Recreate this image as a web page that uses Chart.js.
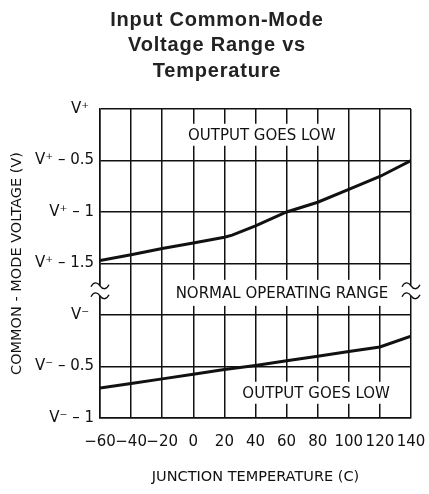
<!DOCTYPE html>
<html>
<head>
<meta charset="utf-8">
<script src="https://cdn.jsdelivr.net/npm/chart.js@4.4.0/dist/chart.umd.min.js"></script>
<style>
  html, body { margin: 0; padding: 0; background: #fff; }
  #wrap { width: 429px; height: 494px; }
</style>
</head>
<body>
<div id="wrap"><canvas id="c" width="429" height="494"></canvas></div>
<script>
// 차트 데이터
const titleLines = ['Input Common-Mode', 'Voltage Range vs', 'Temperature'];

const upperTemps = [-60, -40, -20, 0, 20, 25, 40, 60, 80, 100, 120, 140];
// V+ 기준 오프셋 (V)
const upperVolts = [-1.47, -1.415, -1.355, -1.30, -1.245, -1.225, -1.135, -1.0, -0.905, -0.78, -0.655, -0.5];

const lowerTemps = [-60, -40, -20, 0, 20, 40, 60, 80, 100, 120, 140];
// V- 기준 오프셋 (V)
const lowerVolts = [-0.71, -0.665, -0.62, -0.575, -0.53, -0.49, -0.445, -0.40, -0.355, -0.31, -0.205];

const xTickLabels = ['−60', '−40', '−20', '0', '20', '40', '60', '80', '100', '120', '140'];
const yTickLabels = ['V⁻ – 1', 'V⁻ – 0.5', 'V⁻ ', 'V⁺ – 1.5', 'V⁺ – 1', 'V⁺ – 0.5', 'V⁺ '];

const notes = [
  { text: 'OUTPUT GOES LOW', x: 44, y: 5.5, h: 11 },
  { text: 'NORMAL OPERATING RANGE', x: 57, y: 2.43, h: 13 },
  { text: 'OUTPUT GOES LOW', x: 79, y: 0.49, h: 11 }
];

// 끊어진 축: V+ 구간은 6 + 2v, V- 구간은 2 + 2v
const upperPts = upperTemps.map((t, i) => ({ x: t, y: 6 + 2 * upperVolts[i] }));
const lowerPts = lowerTemps.map((t, i) => ({ x: t, y: 2 + 2 * lowerVolts[i] }));

const FONT = "'DejaVu Sans', sans-serif";
const INK = '#111';

// 제목 (자간 조절 때문에 직접 그림)
const titlePlugin = {
  id: 'titleText',
  afterDraw(chart) {
    const ctx = chart.ctx;
    ctx.save();
    ctx.font = "bold 20px 'Liberation Sans', Arial, sans-serif";
    ctx.fillStyle = '#222';
    ctx.textAlign = 'center';
    ctx.textBaseline = 'alphabetic';
    ctx.letterSpacing = '0.8px';
    titleLines.forEach((line, i) => {
      ctx.fillText(line, 217, 25.5 + i * 25.5);
    });
    ctx.restore();
  }
};

// 주석 텍스트 + 축 끊김 표시
const notesPlugin = {
  id: 'notes',
  afterDatasetsDraw(chart) {
    const ctx = chart.ctx;
    const xs = chart.scales.x, ys = chart.scales.y;
    ctx.save();
    ctx.font = '15px ' + FONT;
    ctx.textAlign = 'center';
    ctx.textBaseline = 'middle';
    notes.forEach(n => {
      const px = xs.getPixelForValue(n.x);
      const py = ys.getPixelForValue(n.y);
      const w = ctx.measureText(n.text).width;
      ctx.fillStyle = '#fff';
      ctx.fillRect(px - w / 2 - 3, py - n.h, w + 6, n.h * 2);
      ctx.fillStyle = INK;
      ctx.fillText(n.text, px, py + 1);
    });

    // 좌우 끊김 기호
    const by = ys.getPixelForValue(2.47);
    [xs.getPixelForValue(xs.min), xs.getPixelForValue(xs.max)].forEach(cx => {
      ctx.fillStyle = '#fff';
      ctx.fillRect(cx - 3, by - 5, 6, 10);
      ctx.strokeStyle = INK;
      ctx.lineWidth = 1.4;
      [by - 5, by + 5].forEach(cy => {
        ctx.beginPath();
        ctx.moveTo(cx - 9, cy + 1);
        ctx.bezierCurveTo(cx - 6, cy - 5, cx - 2, cy - 3, cx, cy);
        ctx.bezierCurveTo(cx + 2, cy + 3, cx + 6, cy + 5, cx + 9, cy - 1);
        ctx.stroke();
      });
    });
    ctx.restore();
  }
};

new Chart(document.getElementById('c'), {
  type: 'line',
  data: {
    datasets: [
      { data: upperPts, borderColor: INK, borderWidth: 3, pointRadius: 0, tension: 0, fill: false },
      { data: lowerPts, borderColor: INK, borderWidth: 3, pointRadius: 0, tension: 0, fill: false }
    ]
  },
  options: {
    responsive: false,
    animation: false,
    layout: { padding: { left: 0, right: 18, top: 109, bottom: 0 } },
    plugins: {
      legend: { display: false },
      tooltip: { enabled: false },
      title: { display: false }
    },
    scales: {
      x: {
        type: 'linear',
        min: -60,
        max: 140,
        afterFit: s => { s.height = 76; s.paddingLeft = 0; s.paddingRight = 0; },
        grid: { color: INK, lineWidth: 1.5, drawTicks: false },
        border: { display: true, color: INK, width: 1.5 },
        ticks: {
          stepSize: 20,
          autoSkip: false,
          maxRotation: 0,
          padding: 15,
          color: INK,
          font: { family: FONT, size: 15 },
          callback: (v, i) => xTickLabels[i]
        },
        title: {
          display: true,
          text: 'JUNCTION TEMPERATURE (C)',
          color: INK,
          font: { family: FONT, size: 14.5 },
          padding: { top: 0, bottom: 8 }
        }
      },
      y: {
        type: 'linear',
        min: 0,
        max: 6,
        afterFit: s => { s.width = 100; },
        grid: { color: INK, lineWidth: 1.5, drawTicks: false },
        border: { display: true, color: INK, width: 1.5 },
        ticks: {
          stepSize: 1,
          autoSkip: false,
          padding: 6,
          color: INK,
          font: { family: FONT, size: 15 },
          callback: v => yTickLabels[Math.round(v)]
        },
        title: {
          display: true,
          text: 'COMMON - MODE VOLTAGE (V)',
          color: INK,
          font: { family: FONT, size: 14.5 },
          padding: { top: 9, bottom: 0 }
        }
      }
    }
  },
  plugins: [titlePlugin, notesPlugin]
});
</script>
</body>
</html>
